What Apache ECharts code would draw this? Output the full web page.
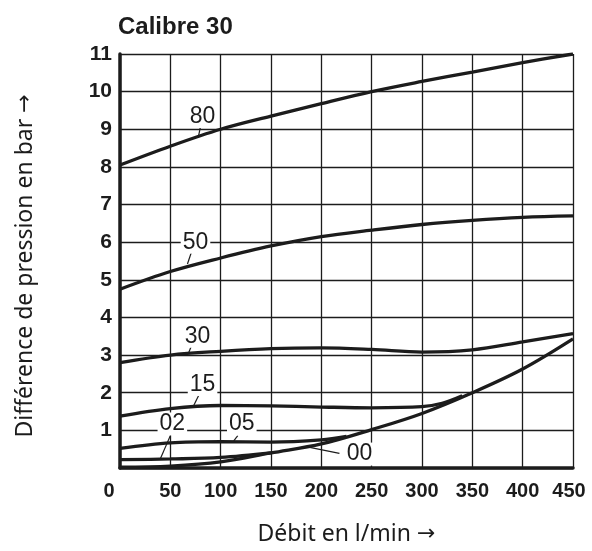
<!DOCTYPE html>
<html>
<head>
<meta charset="utf-8">
<script src="https://cdn.jsdelivr.net/npm/echarts@6/dist/echarts.min.js"></script>
<style>html,body{margin:0;padding:0;background:#fff}#c{width:592px;height:551px}</style>
</head>
<body>
<div id="c"></div>
<script>
// ---- data ----
var title = 'Calibre 30';
var xName = 'Débit en l/min';
var yName = 'Différence de pression en bar';
var xTicks = [0, 50, 100, 150, 200, 250, 300, 350, 400, 450];
var yTicks = [0, 1, 2, 3, 4, 5, 6, 7, 8, 9, 10, 11];

var x80 = [0, 50, 100, 150, 200, 250, 300, 350, 400, 450];
var y80 = [8.05, 8.55, 9.0, 9.35, 9.68, 10.0, 10.27, 10.52, 10.77, 11.0];
var x50 = [0, 50, 100, 150, 200, 250, 300, 350, 400, 450];
var y50 = [4.75, 5.22, 5.58, 5.9, 6.15, 6.32, 6.47, 6.58, 6.66, 6.7];
var x30 = [0, 50, 100, 150, 200, 250, 300, 350, 400, 450];
var y30 = [2.8, 3.0, 3.1, 3.17, 3.19, 3.15, 3.08, 3.14, 3.35, 3.57];
var x15 = [0, 50, 100, 150, 200, 250, 300, 320, 340];
var y15 = [1.38, 1.58, 1.66, 1.65, 1.62, 1.6, 1.63, 1.72, 1.92];
var x05 = [0, 50, 100, 150, 200, 225];
var y05 = [0.52, 0.67, 0.70, 0.69, 0.75, 0.84];
var x02 = [0, 50, 100, 150];
var y02 = [0.22, 0.24, 0.28, 0.40];
var x00 = [0, 50, 100, 150, 200, 250, 300, 350, 400, 450];
var y00 = [0.02, 0.05, 0.16, 0.4, 0.64, 1.02, 1.45, 2.0, 2.63, 3.43];

// ---- annotations (label anchor and leader line, in data units) ----
var names = ['80', '50', '30', '15', '05', '02', '00'];
var labelAt = {
  '80': [82, 9.34], '50': [75, 6.0], '30': [77, 3.5], '15': [82, 2.22],
  '02': [52, 1.17], '05': [121, 1.17], '00': [238, 0.37]
};
var leaderAt = {
  '80': [[80, 9.08], [78, 8.82]], '50': [[71, 5.74], [67, 5.42]],
  '30': [[71, 3.25], [68, 3.05]], '15': [[78, 1.92], [73, 1.65]],
  '02': [[50, 0.86], [40, 0.24]], '05': [[117, 0.86], [113, 0.72]],
  '00': [[218, 0.39], [186, 0.56]]
};

var curves = {
  '80': [x80, y80], '50': [x50, y50], '30': [x30, y30], '15': [x15, y15],
  '05': [x05, y05], '02': [x02, y02], '00': [x00, y00]
};

function pairs(xs, ys) { return xs.map(function (x, i) { return [x, ys[i]]; }); }

var INK = '#1c1c1c';
var series = names.map(function (n) {
  return {
    name: n, type: 'line', smooth: 0.35, symbol: 'none',
    lineStyle: { color: INK, width: 3.3 },
    data: pairs(curves[n][0], curves[n][1]),
    z: 3,
    markLine: {
      silent: true, symbol: 'none', label: { show: false },
      lineStyle: { color: INK, width: 1.2, type: 'solid' },
      data: [[{ coord: leaderAt[n][0] }, { coord: leaderAt[n][1] }]],
      z: 4
    },
    markPoint: {
      silent: true, symbol: 'rect', symbolSize: 1,
      itemStyle: { color: 'rgba(0,0,0,0)' },
      label: {
        show: true, position: 'inside', formatter: n,
        color: INK, fontFamily: 'Liberation Sans', fontSize: 23,
        backgroundColor: '#fff', padding: [0, 2, 0, 2]
      },
      data: [{ coord: labelAt[n], value: n }],
      z: 5
    }
  };
});

function nameStyle(pad) {
  return {
    fontFamily: 'Noto Sans', fontSize: 23, color: INK, padding: pad,
    rich: { a: { fontFamily: 'DejaVu Sans', fontSize: 22, color: INK } }
  };
}

var chart = echarts.init(document.getElementById('c'), null, { renderer: 'canvas' });
chart.setOption({
  animation: false,
  backgroundColor: '#fff',
  title: {
    text: title, left: 118, top: 15, padding: 0,
    textStyle: { fontFamily: 'Liberation Sans', fontWeight: 'bold', fontSize: 24, color: INK }
  },
  grid: { left: 120, right: 19, top: 54, bottom: 82, containLabel: false },
  xAxis: {
    type: 'value', min: xTicks[0], max: xTicks[xTicks.length - 1], interval: 50,
    name: xName + ' {a|→}', nameLocation: 'middle', nameGap: 55,
    nameTextStyle: nameStyle([0, 0, 0, 0]),
    axisLine: { show: true, onZero: false, lineStyle: { color: INK, width: 3.5 } },
    axisTick: { show: false },
    splitLine: { show: true, lineStyle: { color: INK, width: 1.3 } },
    axisLabel: {
      margin: 13, color: INK, fontFamily: 'Liberation Sans', fontWeight: 'bold', fontSize: 20,
      formatter: function (v) {
        if (v === 0) return '{z|0}';
        if (v === 450) return '{e|450}';
        return String(v);
      },
      rich: {
        z: { padding: [0, 22, 0, 0], fontFamily: 'Liberation Sans', fontWeight: 'bold', fontSize: 20, color: INK },
        e: { padding: [0, 8, 0, 0], fontFamily: 'Liberation Sans', fontWeight: 'bold', fontSize: 20, color: INK }
      }
    }
  },
  yAxis: {
    type: 'value', min: yTicks[0], max: yTicks[yTicks.length - 1], interval: 1,
    name: yName + ' {a|→}', nameLocation: 'middle', nameGap: 83,
    nameTextStyle: nameStyle([0, 10, 0, 0]),
    axisLine: { show: true, lineStyle: { color: INK, width: 3.5 } },
    axisTick: { show: false },
    splitLine: { show: true, lineStyle: { color: INK, width: 1.3 } },
    axisLabel: {
      margin: 8, color: INK, fontFamily: 'Liberation Sans', fontWeight: 'bold', fontSize: 21,
      formatter: function (v) { return v === 0 ? '' : String(v); }
    }
  },
  series: series
});
</script>
</body>
</html>
